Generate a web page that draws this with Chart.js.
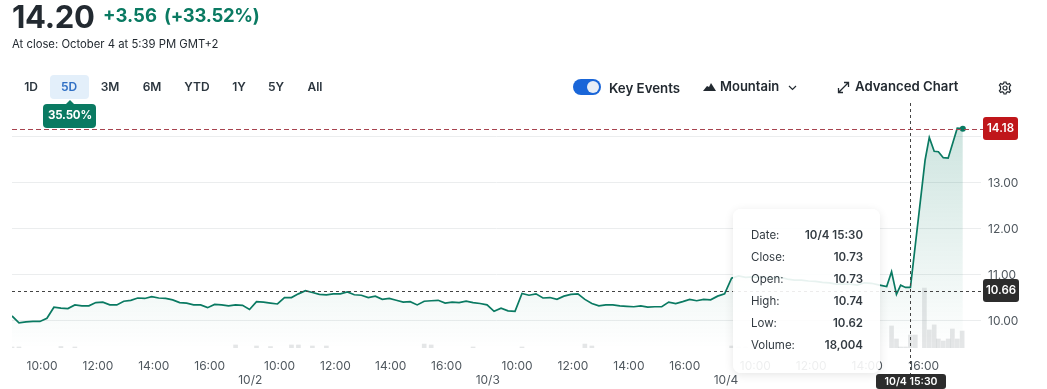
<!DOCTYPE html>
<html>
<head>
<meta charset="utf-8">
<title>5D chart</title>
<script src="https://cdn.jsdelivr.net/npm/chart.js@4"></script>
<style>
  html, body { margin: 0; padding: 0; background: #fff; width: 1047px; height: 389px; overflow: hidden; }
  body { font-family: Inter, "Noto Sans", sans-serif; color: #232a31; position: relative; }
  #chart { position: absolute; left: 0; top: 0; }
  .t { position: absolute; white-space: nowrap; line-height: 1; }
  .range { font-size: 12px; font-weight: 600; transform: translateX(-50%); top: 81px; color: #2c363f; }
  .tool { font-size: 13px; font-weight: 600; color: #232a31; }
  .tip { position: absolute; left: 733px; top: 209px; width: 147px; height: 164px; background: rgba(255,255,255,.9);
         border-radius: 8px; box-shadow: 0 2px 10px rgba(0,0,0,.10); }
  .tip span { position: absolute; font-size: 11.5px; line-height: 1; white-space: nowrap; }
  .tip .k { left: 18px; color: #333b42; }
  .tip .v { right: 17px; font-weight: 600; color: #333b42; }
</style>
</head>
<body>
<canvas id="chart" width="1047" height="389"></canvas>

<span class="t" style="left:12px;top:1px;font-size:31px;font-weight:700;letter-spacing:-.3px">14.20</span>
<span class="t" style="left:103px;top:6px;font-size:18.5px;font-weight:700;color:#0a7a62">+3.56</span>
<span class="t" style="left:164px;top:6px;font-size:18.5px;font-weight:700;letter-spacing:-.3px;color:#0a7a62">(+33.52%)</span>
<span class="t" style="left:12px;top:39px;font-size:11.3px">At close: October 4 at 5:39 PM GMT+2</span>

<div style="position:absolute;left:50px;top:75px;width:39px;height:24px;background:#e3effa;border-radius:4px"></div>
<span class="t range" style="left:31px">1D</span>
<span class="t range" style="left:69px;color:#2f6fc4">5D</span>
<span class="t range" style="left:110px">3M</span>
<span class="t range" style="left:152px">6M</span>
<span class="t range" style="left:197px">YTD</span>
<span class="t range" style="left:239px">1Y</span>
<span class="t range" style="left:276px">5Y</span>
<span class="t range" style="left:315px">All</span>

<div style="position:absolute;left:43px;top:104px;width:53px;height:24px;background:#0a7a62;border-radius:4px;z-index:2"></div>
<div style="position:absolute;left:65px;top:100px;width:0;height:0;border-left:5px solid transparent;border-right:5px solid transparent;border-bottom:5px solid #0a7a62;z-index:2"></div>
<span class="t" style="left:48px;top:110px;font-size:11.5px;font-weight:700;letter-spacing:-.2px;color:#fff;z-index:3">35.50%</span>

<div style="position:absolute;left:573px;top:79px;width:28px;height:16px;background:#1a66d8;border-radius:8px"></div>
<div style="position:absolute;left:587px;top:81px;width:12px;height:12px;background:#e8eef6;border-radius:6px"></div>
<span class="t tool" style="left:609px;top:82px;font-size:13.3px">Key Events</span>

<svg style="position:absolute;left:703px;top:83px" width="13" height="8" viewBox="0 0 13 8"><path d="M0 8 L4 3 L6 4 L8 0 L13 8 Z" fill="#232a31"/></svg>
<span class="t tool" style="left:720px;top:80px">Mountain</span>
<svg style="position:absolute;left:788px;top:85px" width="9" height="6" viewBox="0 0 9 6"><path d="M1 1 L4.5 4.5 L8 1" fill="none" stroke="#232a31" stroke-width="1.2"/></svg>

<svg style="position:absolute;left:837px;top:81px" width="13" height="13" viewBox="0 0 13 13"><path d="M1.5 11.5 L11.5 1.5 M7 1.5 H11.5 V6 M1.5 7 V11.5 H6" fill="none" stroke="#232a31" stroke-width="1.3"/></svg>
<span class="t tool" style="left:855px;top:80px;font-size:13.2px">Advanced Chart</span>

<svg style="position:absolute;left:998px;top:81px" width="14" height="14" viewBox="0 0 14 14"><g fill="none" stroke="#232a31" stroke-width="1.2"><circle cx="7" cy="7" r="2"/><path d="M6 1 H8 L8.4 2.6 L9.9 3.3 L11.4 2.5 L12.6 4.2 L11.5 5.5 V8.5 L12.6 9.8 L11.4 11.5 L9.9 10.7 L8.4 11.4 L8 13 H6 L5.6 11.4 L4.1 10.7 L2.6 11.5 L1.4 9.8 L2.5 8.5 V5.5 L1.4 4.2 L2.6 2.5 L4.1 3.3 L5.6 2.6 Z"/></g></svg>

<div class="tip" id="tip"></div>

<script>
// Closing prices, oldest first
const closes = [
  10.11, 9.96, 9.98, 9.99, 9.99, 10.06, 10.30, 10.28, 10.27, 10.35, 10.33, 10.33, 10.40, 10.41, 10.35, 10.35, 10.43,
  10.45, 10.50, 10.49, 10.53, 10.50, 10.49, 10.46, 10.40, 10.39, 10.35, 10.35, 10.29, 10.36, 10.35, 10.33, 10.35, 10.34,
  10.25, 10.42, 10.41, 10.39, 10.37, 10.51, 10.51, 10.59, 10.66, 10.62, 10.58, 10.57, 10.59, 10.59, 10.63, 10.57, 10.56,
  10.51, 10.54, 10.47, 10.49, 10.45, 10.41, 10.42, 10.35, 10.43, 10.44, 10.45, 10.39, 10.41, 10.40, 10.43, 10.40, 10.38,
  10.35, 10.21, 10.28, 10.22, 10.21, 10.60, 10.56, 10.59, 10.50, 10.51, 10.47, 10.54, 10.58, 10.59, 10.47, 10.38, 10.33,
  10.35, 10.35, 10.33, 10.32, 10.31, 10.33, 10.30, 10.31, 10.31, 10.41, 10.38, 10.42, 10.47, 10.44, 10.47, 10.46, 10.54,
  10.59, 10.93, 10.98, 10.95, 10.96, 10.95, 10.94, 10.93, 10.95, 10.91, 10.89, 10.89, 10.87, 10.86, 10.84, 10.83, 10.80,
  10.80, 10.80, 10.78, 10.83, 10.82
];
// Last stretch of 10/4 runs on tighter bars, so it keeps its own slots
const tailSlots = [124.2, 125.2, 125.9, 126.6, 127.2, 127.9, 128.6, 130.7, 131.3, 132, 132.6, 133.3, 134, 135.3, 136.1];
const tailCloses = [10.78, 10.75, 11.07, 10.58, 10.78, 10.73, 10.73, 13.50, 13.99, 13.69, 13.68, 13.55, 13.54, 14.19, 14.18];

const volumeSlots = [0, 1, 7, 9, 32, 35, 37, 40, 41, 43, 45, 59, 60, 66, 73, 82, 83, 103, 104, 105,
  125.9, 126.6, 127.2, 127.9, 128.6, 129.3, 130.6, 131.3, 132, 132.6, 133.3, 134, 134.6, 135.3, 136];
const volumes = [1400, 1400, 2100, 1400, 4200, 2800, 2000, 4200, 4200, 2800, 2800, 5500, 4200, 1400, 1400, 5500, 2800, 2800, 1400, 1400,
  30500, 12500, 1400, 1400, 18004, 18000, 83000, 25000, 32000, 12500, 9700, 12500, 26300, 12500, 23500];

const timeTickSlots = [4.3, 12.3, 20.3, 28.3, 38.3, 46.3, 54.2, 62.2, 72.3, 80.3, 88.3, 96.3, 106.4, 114.4, 122.4, 130.5];
const timeTickLabels = ['10:00', '12:00', '14:00', '16:00', '10:00', '12:00', '14:00', '16:00', '10:00', '12:00', '14:00', '16:00', '10:00', '12:00', '14:00', '16:00'];
const dateTickSlots = [34.1, 68.1, 102.2];
const dateTickLabels = ['10/2', '10/3', '10/4'];
const priceTicks = [10, 11, 12, 13, 14];
const hiddenPriceTick = 14;

const lastPrice = 14.18;
const hoverPrice = 10.66;
const hoverSlot = 128.6;
const hoverLabel = '10/4 15:30';

const tipLabels = ['Date:', 'Close:', 'Open:', 'High:', 'Low:', 'Volume:'];
const tipValues = ['10/4 15:30', '10.73', '10.73', '10.74', '10.62', '18,004'];

const GREEN = '#0a7a62';
const FONT = 'Inter, "Noto Sans", sans-serif';

const pricePoints = closes.map((y, i) => ({ x: i, y: y }))
  .concat(tailCloses.map((y, i) => ({ x: tailSlots[i], y: y })));
const volumePoints = volumes.map((y, i) => ({ x: volumeSlots[i], y: y }));

// Fill the tooltip rows
const tip = document.getElementById('tip');
tipLabels.forEach((label, i) => {
  const top = 21 + i * 22;
  tip.insertAdjacentHTML('beforeend',
    `<span class="k" style="top:${top}px">${label}</span><span class="v" style="top:${top}px">${tipValues[i]}</span>`);
});

function roundBox(ctx, x, y, w, h, r, color) {
  ctx.fillStyle = color;
  ctx.beginPath();
  ctx.roundRect(x, y, w, h, r);
  ctx.fill();
}

// Dashed guide lines, hover crosshair and the value badges
const guidesPlugin = {
  id: 'guides',
  afterDatasetsDraw(chart) {
    const { ctx, chartArea, scales } = chart;
    const yLast = Math.round(scales.y.getPixelForValue(lastPrice));
    const yHover = Math.round(scales.y.getPixelForValue(hoverPrice));
    const xHover = Math.round(scales.x.getPixelForValue(hoverSlot));
    const badgeX = chartArea.right + 2;

    ctx.save();
    ctx.lineWidth = 1;

    ctx.setLineDash([5, 3]);
    ctx.strokeStyle = '#a8434f';
    ctx.beginPath();
    ctx.moveTo(chartArea.left, yLast + 0.5);
    ctx.lineTo(badgeX, yLast + 0.5);
    ctx.stroke();

    ctx.setLineDash([3, 3]);
    ctx.strokeStyle = '#444';
    ctx.beginPath();
    ctx.moveTo(chartArea.left, yHover + 0.5);
    ctx.lineTo(badgeX, yHover + 0.5);
    ctx.moveTo(xHover + 0.5, chartArea.top);
    ctx.lineTo(xHover + 0.5, chartArea.bottom + 26);
    ctx.stroke();
    ctx.setLineDash([]);

    ctx.font = '600 11.5px ' + FONT;
    ctx.textAlign = 'center';
    ctx.textBaseline = 'middle';

    roundBox(ctx, badgeX, yLast - 12, 35, 23, 3, '#c0161a');
    ctx.fillStyle = '#fff';
    ctx.fillText(lastPrice.toFixed(2), badgeX + 17.5, yLast);

    roundBox(ctx, badgeX, yHover - 12, 36, 23, 3, '#2c2c2c');
    ctx.fillStyle = '#fff';
    ctx.fillText(hoverPrice.toFixed(2), badgeX + 18, yHover);

    roundBox(ctx, xHover - 34, chartArea.bottom + 26, 70, 15, 3, '#2c2c2c');
    ctx.fillStyle = '#fff';
    ctx.font = '600 10.5px ' + FONT;
    ctx.fillText(hoverLabel, xHover + 1, chartArea.bottom + 33.5);

    ctx.restore();
  }
};

new Chart(document.getElementById('chart'), {
  data: {
    datasets: [
      {
        type: 'line',
        label: 'Close',
        data: pricePoints,
        borderColor: GREEN,
        borderWidth: 1.7,
        tension: 0,
        fill: 'start',
        backgroundColor: function(context) {
          const area = context.chart.chartArea;
          if (!area) return 'rgba(10,122,98,0.1)';
          const gradient = context.chart.ctx.createLinearGradient(0, area.top + 26, 0, area.bottom);
          gradient.addColorStop(0, 'rgba(10,122,98,0.2)');
          gradient.addColorStop(1, 'rgba(10,122,98,0)');
          return gradient;
        },
        pointRadius: ctx => (ctx.dataIndex === pricePoints.length - 1 ? 3 : 0),
        pointBackgroundColor: GREEN,
        pointBorderWidth: 0,
        yAxisID: 'y',
        order: 2
      },
      {
        type: 'bar',
        label: 'Volume',
        data: volumePoints,
        backgroundColor: 'rgba(170,178,180,0.32)',
        barThickness: 4,
        yAxisID: 'volume',
        order: 1
      }
    ]
  },
  options: {
    responsive: false,
    animation: false,
    events: [],
    layout: { padding: { left: 12, top: 103, right: 0, bottom: 0 } },
    plugins: { legend: { display: false }, tooltip: { enabled: false } },
    scales: {
      x: {
        type: 'linear',
        offset: false,
        min: 0,
        max: 138.7,
        grid: { display: false },
        border: { display: false },
        afterFit: scale => { scale.height = 41; },
        afterBuildTicks: scale => {
          scale.ticks = timeTickSlots.concat(dateTickSlots).map(v => ({ value: v }));
        },
        ticks: {
          autoSkip: false,
          maxRotation: 0,
          padding: 3,
          color: '#50585f',
          font: { family: FONT, size: 12 },
          // Date labels sit on a second line under the times
          callback: (value, index) => (index < timeTickLabels.length
            ? timeTickLabels[index]
            : ['', dateTickLabels[index - timeTickLabels.length]])
        }
      },
      y: {
        position: 'right',
        min: 9.413,
        max: 14.739,
        grid: { color: '#ebedee', drawTicks: false },
        border: { display: false },
        afterFit: scale => { scale.width = 66; },
        afterBuildTicks: scale => { scale.ticks = priceTicks.map(v => ({ value: v })); },
        ticks: {
          padding: 7,
          color: '#50585f',
          font: { family: FONT, size: 12 },
          callback: value => (value === hiddenPriceTick ? '' : value.toFixed(2))
        }
      },
      volume: {
        display: false,
        min: 0,
        max: 339000
      }
    }
  },
  plugins: [guidesPlugin]
});
</script>
</body>
</html>
